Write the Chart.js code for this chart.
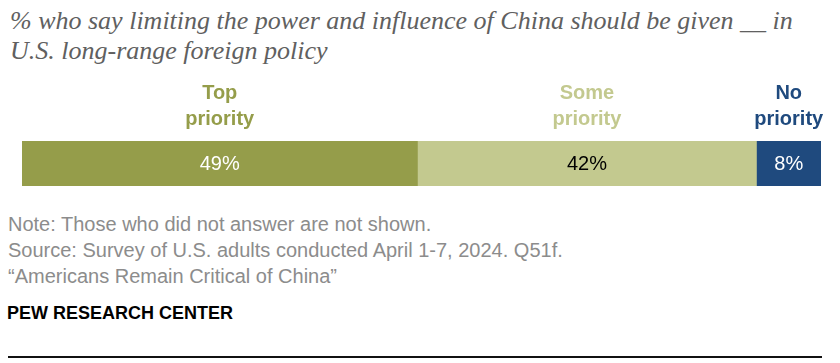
<!DOCTYPE html>
<html>
<head>
<meta charset="utf-8">
<script src="https://cdn.jsdelivr.net/npm/chart.js@4/dist/chart.umd.min.js"></script>
<style>
  html, body { margin: 0; padding: 0; background: #fff; }
  body { width: 840px; height: 363px; position: relative; overflow: hidden; }
  .t { position: absolute; white-space: nowrap; }
  .title { left: 10px; font-family: "Liberation Serif", Georgia, serif; font-style: italic; font-size: 26px; color: #606060; }
  .note { left: 8px; font-family: "Liberation Sans", Arial, sans-serif; font-size: 20px; line-height: 20px; color: #8c8c8c; }
  .brand { left: 7px; top: 303px; font-family: "Liberation Sans", Arial, sans-serif; font-weight: bold; font-size: 18px; color: #000; }
  #wrap { position: absolute; left: 0; top: 75px; width: 840px; height: 120px; }
  .rule { position: absolute; left: 8px; top: 356px; width: 814px; height: 2px; background: #111; }
</style>
</head>
<body>
<div class="t title" style="top:6px">% who say limiting the power and influence of China should be given __ in</div>
<div class="t title" style="top:36px">U.S. long-range foreign policy</div>

<div id="wrap"><canvas id="chart"></canvas></div>

<div class="t note" style="top:214px">Note: Those who did not answer are not shown.</div>
<div class="t note" style="top:240px">Source: Survey of U.S. adults conducted April 1-7, 2024. Q51f.</div>
<div class="t note" style="top:266px">“Americans Remain Critical of China”</div>
<div class="t brand">PEW RESEARCH CENTER</div>
<div class="rule"></div>

<script>
// chart data
const categories = ['China'];
const seriesNames = ['Top priority', 'Some priority', 'No priority'];
const seriesValues = [[49], [42], [8]];
const seriesColors = ['#959d4a', '#c3c98f', '#1f4a7e'];
const valueLabelColors = ['#ffffff', '#000000', '#ffffff'];
const xMax = 99;

// labels over each segment + value in the middle
const segmentLabels = {
    id: 'segmentLabels',
    afterDatasetsDraw(chart) {
        const { ctx, chartArea } = chart;
        ctx.save();
        ctx.textAlign = 'center';
        chart.data.datasets.forEach((ds, i) => {
            const bar = chart.getDatasetMeta(i).data[0];
            const cx = (bar.base + bar.x) / 2;

            // value
            ctx.font = '20px "Liberation Sans", Arial, sans-serif';
            ctx.fillStyle = valueLabelColors[i];
            ctx.textBaseline = 'middle';
            ctx.fillText(ds.data[0] + '%', cx, bar.y + 1);

            // category name, two lines
            ctx.font = 'bold 20px "Liberation Sans Narrow", "Arial Narrow", sans-serif';
            ctx.fillStyle = seriesColors[i];
            ctx.textBaseline = 'alphabetic';
            const words = ds.label.split(' ');
            ctx.fillText(words[0], cx, chartArea.top - 42);
            ctx.fillText(words[1], cx, chartArea.top - 16);
        });
        ctx.restore();
    }
};

new Chart(document.getElementById('chart'), {
    type: 'bar',
    data: {
        labels: categories,
        datasets: seriesNames.map((name, i) => ({
            label: name,
            data: seriesValues[i],
            backgroundColor: seriesColors[i],
            borderWidth: 0,
            barPercentage: 1,
            categoryPercentage: 1
        }))
    },
    options: {
        indexAxis: 'y',
        responsive: true,
        maintainAspectRatio: false,
        animation: false,
        layout: { padding: { left: 22, right: 19, top: 66, bottom: 9 } },
        plugins: { legend: { display: false }, tooltip: { enabled: false } },
        scales: {
            x: { stacked: true, min: 0, max: xMax, display: false },
            y: { stacked: true, display: false }
        }
    },
    plugins: [segmentLabels]
});
</script>
</body>
</html>
